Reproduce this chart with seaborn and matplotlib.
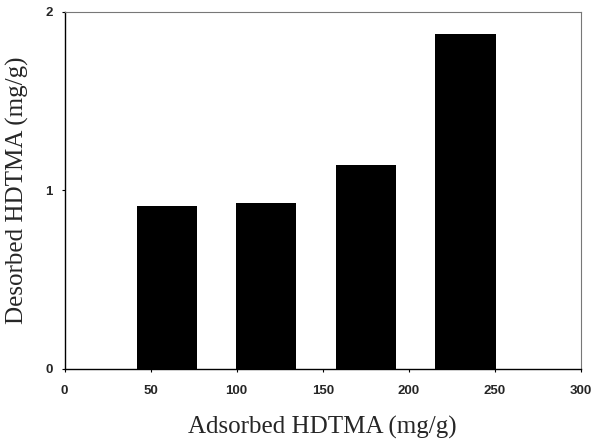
import matplotlib
matplotlib.use("Agg")
import matplotlib.pyplot as plt
import seaborn as sns
import pandas as pd

adsorbed = [59.4, 117, 175.2, 232.9]
desorbed = [0.912, 0.927, 1.14, 1.875]
xticks = [0, 50, 100, 150, 200, 250, 300]
yticks = [0, 1, 2]

sns.set_theme(style="white")
plt.rcParams['font.family'] = ['Liberation Sans', 'DejaVu Sans']

df = pd.DataFrame({"adsorbed": adsorbed, "desorbed": desorbed})

fig = plt.figure(figsize=(5.94, 4.41), dpi=100)
ax = fig.add_axes([0.1086, 0.1633, 0.8695, 0.8102])
sns.barplot(data=df, x="adsorbed", y="desorbed", native_scale=True,
            width=0.61, color="black", saturation=1, ax=ax, linewidth=0)

ax.set_xlim(0, 300)
ax.set_ylim(0, 2)
ax.set_xticks(xticks)
ax.set_yticks(yticks)
ax.set_xticklabels([str(t) for t in xticks], fontsize=9.5, fontweight="bold")
ax.set_yticklabels([str(t) for t in yticks], fontsize=9.5, fontweight="bold")
ax.tick_params(axis="both", direction="out", length=2.5, width=0.8, color="black",
               bottom=True, left=True)
ax.tick_params(axis="x", pad=9)
ax.tick_params(axis="y", pad=6)

for s in ["left", "bottom"]:
    ax.spines[s].set_color("black")
    ax.spines[s].set_linewidth(1.0)
for s in ["top", "right"]:
    ax.spines[s].set_color("#777777")
    ax.spines[s].set_linewidth(0.8)

ax.set_xlabel("Adsorbed HDTMA (mg/g)", fontsize=18, family="Liberation Serif", labelpad=14)
ax.set_ylabel("Desorbed HDTMA (mg/g)", fontsize=18, family="Liberation Serif", labelpad=12)

fig.savefig("out.png", dpi=100, facecolor="white")
